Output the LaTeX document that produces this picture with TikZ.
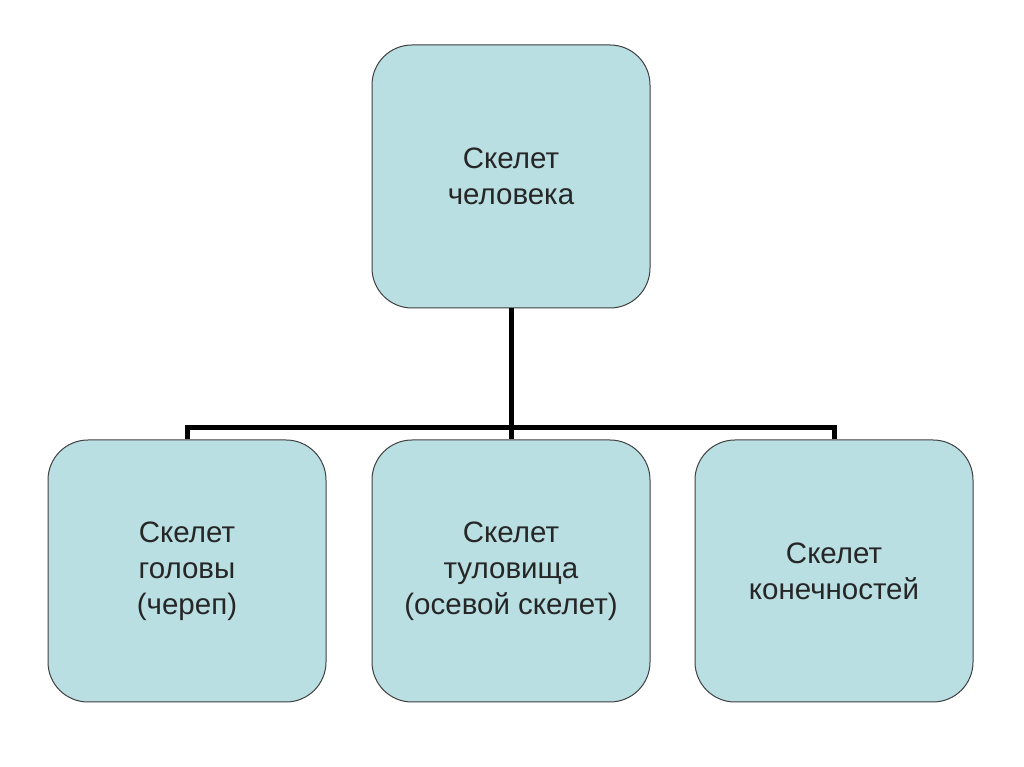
\documentclass[tikz,border=0pt]{standalone}
\usepackage{fontspec}
\setmainfont{Liberation Sans}
\begin{document}
\begin{tikzpicture}[x=1pt,y=1pt,
  box/.style={draw=black!75, line width=1pt, fill=boxfill, rounded corners=40pt,
    minimum width=278pt, minimum height=263pt, align=center,
    font=\fontsize{29.5}{36}\selectfont, text=black!85, inner sep=0pt},
  conn/.style={line width=5pt, draw=black, line join=miter, line cap=butt}]
\definecolor{boxfill}{HTML}{B9DFE3}
\useasboundingbox (0,0) rectangle (1024,767);
\fill[white] (0,0) rectangle (1024,767);
\node[box] (top) at (511,590.5) {Скелет\\человека};
\node[box, minimum height=262pt] (left) at (187,196) {Скелет\\головы\\(череп)};
\node[box, minimum height=262pt] (mid) at (511,196) {Скелет\\туловища\\(осевой скелет)};
\node[box, minimum height=262pt] (right) at (834,196) {Скелет\\конечностей};
\coordinate (busL) at ([yshift=12pt]left.north);
\coordinate (busR) at ([yshift=12pt]right.north);
\draw[conn] (top.south) -- (mid.north);
\draw[conn] (left.north) -- (busL) -- (busR) -- (right.north);
\end{tikzpicture}
\end{document}
